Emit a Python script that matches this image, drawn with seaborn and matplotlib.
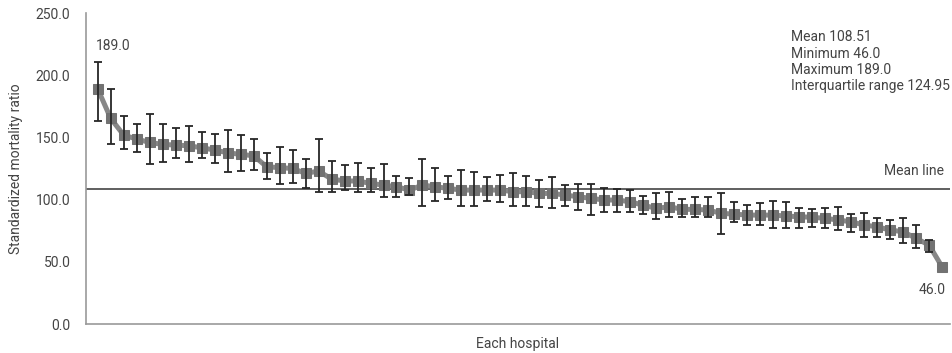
import matplotlib
matplotlib.use("Agg")
import matplotlib.pyplot as plt
import matplotlib.transforms as mtransforms
import seaborn as sns
import numpy as np
import pandas as pd

# ---- data ----
smr = [189.0, 165.3, 151.9, 148.7, 146.0, 144.4, 143.9, 143.3, 141.7, 139.9,
       137.7, 136.4, 135.3, 126.5, 125.7, 125.1, 121.1, 123.0, 116.6, 115.0,
       115.0, 113.1, 111.7, 110.4, 107.7, 111.7, 110.4, 109.0, 107.7, 107.7,
       107.7, 107.7, 106.4, 106.4, 105.0, 105.0, 103.7, 102.3, 101.0, 99.7,
       99.7, 98.3, 95.5, 93.0, 94.3, 92.2, 92.2, 91.6, 89.0, 88.4,
       87.6, 87.6, 87.6, 86.8, 86.3, 85.8, 85.0, 83.6, 82.2, 79.6,
       78.2, 75.6, 74.2, 68.9, 63.5, 46.0]
upper = [211.0, 188.6, 167.5, 160.8, 168.6, 160.8, 157.8, 159.4, 154.6, 152.5,
         155.9, 151.7, 148.5, 137.8, 142.3, 139.9, 132.4, 148.5, 131.3, 127.8,
         129.4, 125.1, 128.6, 119.2, 117.1, 132.6, 125.7, 119.2, 123.6, 122.5,
         117.9, 119.8, 121.4, 119.2, 116.0, 117.9, 111.7, 112.5, 112.5, 109.6,
         108.5, 107.7, 102.8, 105.0, 106.4, 100.2, 101.8, 101.8, 105.5, 98.3,
         95.7, 97.0, 98.6, 98.3, 93.0, 92.2, 93.0, 94.3, 88.4, 89.0,
         85.0, 83.6, 85.0, 79.6, 67.5, 46.0]
lower = [163.4, 144.4, 140.4, 138.0, 128.6, 130.5, 133.7, 130.5, 133.2, 129.2,
         122.4, 123.0, 123.8, 116.6, 112.5, 113.3, 109.0, 105.9, 105.9, 107.5,
         105.9, 105.9, 102.3, 102.3, 103.7, 94.9, 98.9, 100.2, 94.9, 95.1,
         98.9, 98.3, 95.1, 95.1, 94.0, 93.0, 95.1, 91.6, 87.6, 90.3,
         90.3, 90.3, 88.6, 84.1, 85.8, 86.3, 86.3, 86.3, 72.3, 82.2,
         79.6, 79.6, 76.9, 76.9, 76.9, 78.2, 76.9, 75.6, 74.2, 70.2,
         69.7, 68.1, 64.9, 60.9, 58.1, 46.0]
mean_value = 108.51
stats_lines = ["Mean 108.51", "Minimum 46.0", "Maximum 189.0",
               "Interquartile range 124.95"]
yticks = [0.0, 50.0, 100.0, 150.0, 200.0, 250.0]
ytick_labels = ["0.0", "50.0", "100.0", "150.0", "200.0", "250.0"]
max_label = "189.0"
min_label = "46.0"

df = pd.DataFrame({"hospital": np.arange(len(smr)), "smr": smr,
                   "upper": upper, "lower": lower})

sns.set_theme(style="white")
plt.rcParams["font.family"] = ["Liberation Sans Narrow", "Roboto", "DejaVu Sans"]

fig = plt.figure(figsize=(9.53, 3.53), dpi=100)
ax = fig.add_axes([0.090, 0.082, 0.907, 0.881])

# error bars (only where an interval exists)
eb = df[df["upper"] > df["lower"]]
yerr = np.vstack([eb["smr"] - eb["lower"], eb["upper"] - eb["smr"]])
ax.errorbar(eb["hospital"], eb["smr"], yerr=yerr, fmt="none",
            ecolor="#262626", elinewidth=1.3, capsize=3.2, capthick=1.3,
            zorder=3)

# line + square markers
sns.lineplot(data=df, x="hospital", y="smr", ax=ax, color="#878787",
             linewidth=3.6, marker="s", markersize=6.5,
             markerfacecolor="#727272", markeredgecolor="#727272",
             zorder=2)

# mean line
ax.axhline(mean_value, color="#5f5f5f", linewidth=1.4, zorder=1)
trans = mtransforms.blended_transform_factory(ax.transAxes, ax.transData)
ax.annotate("Mean line", xy=(0.993, mean_value), xycoords=trans,
            xytext=(0, 8), textcoords="offset points", ha="right",
            va="bottom", fontsize=10, color="#444444")

# max / min labels
ax.annotate(max_label, xy=(0, smr[0]), xytext=(-1, 31),
            textcoords="offset points", ha="left", va="center",
            fontsize=10, color="#444444")
ax.annotate(min_label, xy=(len(smr) - 1, smr[-1]), xytext=(-7, -17),
            textcoords="offset points", ha="center", va="center",
            fontsize=10, color="#444444")

# stats text
ax.text(0.816, 0.945, "\n".join(stats_lines), transform=ax.transAxes,
        ha="left", va="top", fontsize=10, color="#444444", linespacing=1.22)

ax.set_xlim(-0.92, len(smr) - 1 + 0.62)
ax.set_ylim(0, 250)
ax.set_yticks(yticks)
ax.set_yticklabels(ytick_labels)
ax.set_xticks([])
ax.tick_params(axis="y", direction="in", length=4.5, width=1.0,
               color="#9a9a9a", labelsize=10, labelcolor="#444444", pad=11)
for side in ["top", "right"]:
    ax.spines[side].set_visible(False)
for side in ["left", "bottom"]:
    ax.spines[side].set_color("#9a9a9a")
    ax.spines[side].set_linewidth(1.2)

ax.set_xlabel("Each hospital", fontsize=10, color="#444444", labelpad=9)
ax.set_ylabel("Standardized mortality ratio", fontsize=10, color="#444444",
              labelpad=9)

fig.savefig("out.png", dpi=100, facecolor="white")
